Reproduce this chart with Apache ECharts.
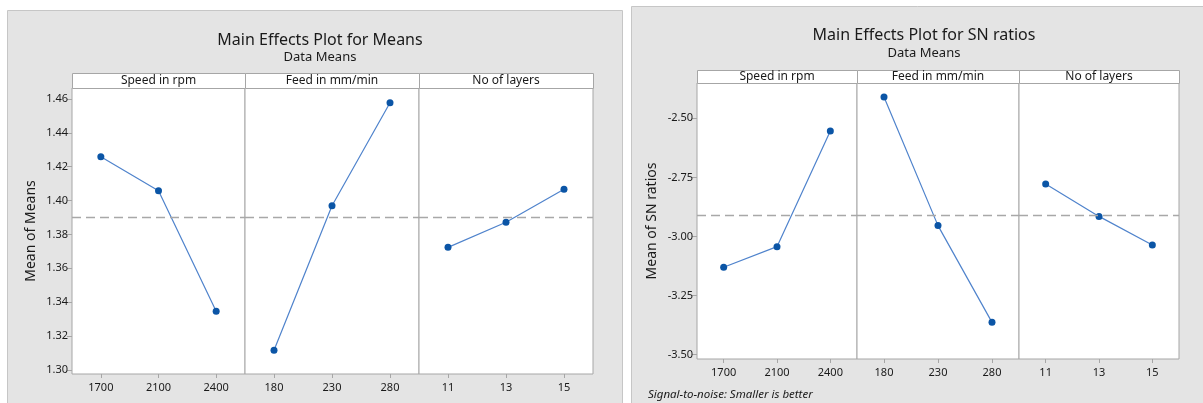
<!DOCTYPE html>
<html>
<head>
<meta charset="utf-8">
<title>Main Effects Plots</title>
<script src="https://cdn.jsdelivr.net/npm/echarts@6/dist/echarts.min.js"></script>
<style>
  html, body { margin: 0; padding: 0; background: #ffffff; }
  #chart { width: 1203px; height: 403px; }
</style>
</head>
<body>
<div id="chart"></div>
<script>
// Factor levels
const speedLevels = ['1700', '2100', '2400'];
const feedLevels = ['180', '230', '280'];
const layerLevels = ['11', '13', '15'];

// Panel titles
const factorNames = ['Speed in rpm', 'Feed in mm/min', 'No of layers'];

// Mean of means per level
const meanSpeed = [1.4259, 1.4058, 1.3347];
const meanFeed = [1.3116, 1.3970, 1.4578];
const meanLayers = [1.3724, 1.3872, 1.4067];

// Mean of SN ratios per level
const snSpeed = [-3.130, -3.043, -2.554];
const snFeed = [-2.410, -2.954, -3.363];
const snLayers = [-2.778, -2.915, -3.036];

// Tick labels on the value axes
const meanTicks = [1.30, 1.32, 1.34, 1.36, 1.38, 1.40, 1.42, 1.44, 1.46];
const snTicks = [-3.50, -3.25, -3.00, -2.75, -2.50];

const FONT = 'Noto Sans';
const TXT = '#1a1a1a';
const FRAME = '#a6a6a6';
const LINE = '#4f83cc';
const DOT = '#0b55a6';

const levels = [speedLevels, feedLevels, layerLevels];
const meanData = [meanSpeed, meanFeed, meanLayers];
const snData = [snSpeed, snFeed, snLayers];

// Layout of the two plots
const plots = [
  { lefts: [72, 245, 419], widths: [173, 174, 174], top: 88, height: 286, stripTop: 73,
    min: 1.2976, max: 1.4665, ticks: meanTicks, data: meanData, yName: 'Mean of Means', nameGap: 34 },
  { lefts: [697, 857, 1019], widths: [160, 162, 160], top: 83, height: 276, stripTop: 70,
    min: -3.518, max: -2.351, ticks: snTicks, data: snData, yName: 'Mean of SN ratios', nameGap: 38 }
];

const grid = [], xAxis = [], yAxis = [], series = [], graphic = [], title = [];

// Grey backdrops
graphic.push({ type: 'rect', shape: { x: 7.5, y: 10.5, width: 615, height: 400 },
  style: { fill: '#e4e4e4', stroke: '#c6c6c6', lineWidth: 1 }, z: -10 });
graphic.push({ type: 'rect', shape: { x: 631.5, y: 6.5, width: 580, height: 400 },
  style: { fill: '#e4e4e4', stroke: '#c6c6c6', lineWidth: 1 }, z: -10 });

plots.forEach((p) => {
  for (let k = 0; k < 3; k++) {
    const gi = grid.length;
    grid.push({ left: p.lefts[k], top: p.top, width: p.widths[k], height: p.height,
      show: true, backgroundColor: '#ffffff', borderColor: FRAME, borderWidth: 1 });
    xAxis.push({
      type: 'category', gridIndex: gi, data: levels[k], boundaryGap: true,
      axisLine: { show: false },
      axisTick: { show: true, alignWithLabel: true, length: 4, lineStyle: { color: FRAME } },
      axisLabel: { color: TXT, fontFamily: FONT, fontSize: 11, margin: 8 }
    });
    yAxis.push({
      type: 'value', gridIndex: gi, min: p.min, max: p.max,
      splitLine: { show: false },
      axisLine: { show: false },
      axisTick: { show: k === 0, length: 5, lineStyle: { color: FRAME }, customValues: p.ticks },
      axisLabel: { show: k === 0, color: TXT, fontFamily: FONT, fontSize: 11, margin: 4,
        customValues: p.ticks, formatter: v => v.toFixed(2) },
      name: k === 0 ? p.yName : '', nameLocation: 'middle', nameGap: k === 0 ? p.nameGap : 0,
      nameTextStyle: { color: TXT, fontFamily: FONT, fontSize: 14 }
    });
    series.push({
      type: 'line', xAxisIndex: gi, yAxisIndex: gi, data: p.data[k],
      symbol: 'circle', symbolSize: 7, clip: false,
      lineStyle: { color: LINE, width: 1.2 },
      itemStyle: { color: DOT },
      markLine: {
        silent: true, symbol: 'none', label: { show: false },
        lineStyle: { color: '#a8a8a8', type: [9, 5], width: 1.3 },
        data: [{ type: 'average' }]
      },
      animation: false
    });
    // Strip header above each panel
    graphic.push({ type: 'rect',
      shape: { x: p.lefts[k] + 0.5, y: p.stripTop + 0.5, width: p.widths[k], height: p.top - p.stripTop },
      style: { fill: '#ffffff', stroke: FRAME, lineWidth: 1 }, z: 5 });
    graphic.push({ type: 'text', x: p.lefts[k] + p.widths[k] / 2, y: (p.stripTop + p.top) / 2 + 0.5,
      style: { text: factorNames[k], fill: TXT, font: '12px "' + FONT + '"', align: 'center', verticalAlign: 'middle' }, z: 6 });
  }
});

// Titles
title.push({ text: 'Main Effects Plot for Means', left: 315, top: 27, textAlign: 'center',
  textStyle: { color: TXT, fontFamily: FONT, fontSize: 16, fontWeight: 'normal' } });
title.push({ text: 'Data Means', left: 315, top: 46, textAlign: 'center',
  textStyle: { color: TXT, fontFamily: FONT, fontSize: 13, fontWeight: 'normal' } });
title.push({ text: 'Main Effects Plot for SN ratios', left: 919, top: 22, textAlign: 'center',
  textStyle: { color: TXT, fontFamily: FONT, fontSize: 16, fontWeight: 'normal' } });
title.push({ text: 'Data Means', left: 919, top: 42, textAlign: 'center',
  textStyle: { color: TXT, fontFamily: FONT, fontSize: 13, fontWeight: 'normal' } });
title.push({ text: 'Signal-to-noise: Smaller is better', left: 643, top: 384,
  textStyle: { color: TXT, fontFamily: FONT, fontSize: 11.5, fontWeight: 'normal', fontStyle: 'italic' } });

const chart = echarts.init(document.getElementById('chart'), null, { renderer: 'canvas' });
chart.setOption({
  animation: false,
  backgroundColor: '#ffffff',
  title, grid, xAxis, yAxis, series, graphic
});
</script>
</body>
</html>
